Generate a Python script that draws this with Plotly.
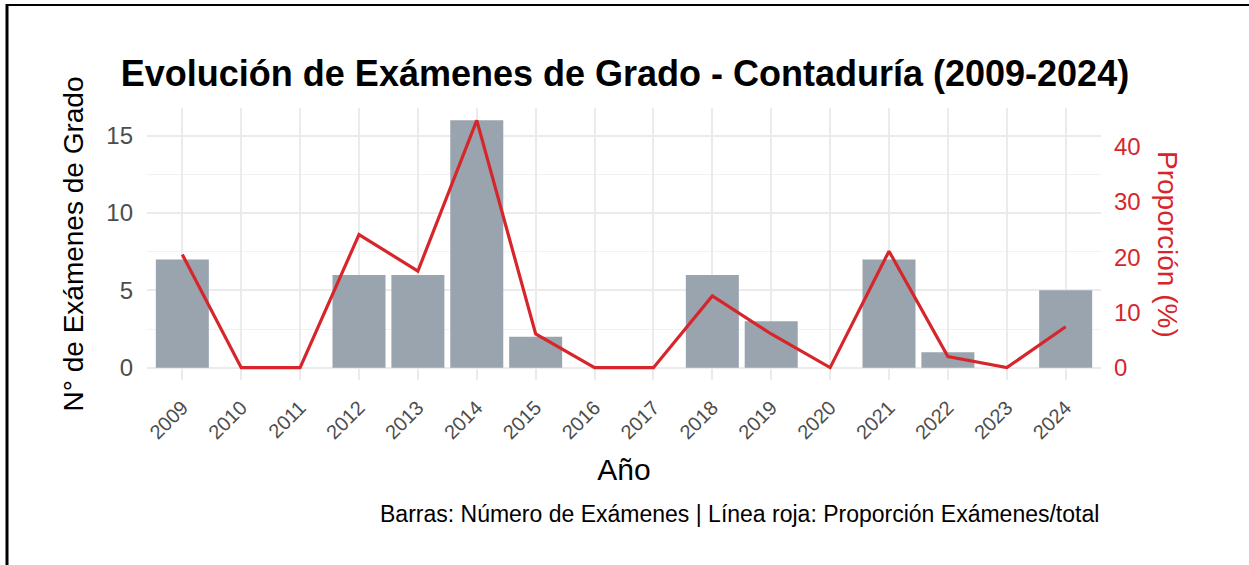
import plotly.graph_objects as go

# Exámenes de grado por año (Contaduría)
anios = ["2009", "2010", "2011", "2012", "2013", "2014", "2015", "2016",
         "2017", "2018", "2019", "2020", "2021", "2022", "2023", "2024"]
examenes = [7, 0, 0, 6, 6, 16, 2, 0, 0, 6, 3, 0, 7, 1, 0, 5]
proporcion = [20.5, 0, 0, 24.1, 17.5, 44.8, 6.1, 0, 0, 13.0, 6.1, 0, 21.1, 2.0, 0, 7.4]

# factor del eje secundario (proporción por unidad de exámenes)
escala = 2.8
y_izq = [-0.8, 16.8]
y_der = [y_izq[0] * escala, y_izq[1] * escala]

W, H = 1249, 565
L, R, T, B = 147, 148, 108, 185
pw, ph = W - L - R, H - T - B

def px_x(x):
    return (x - L) / pw

def px_y(y):
    return (H - B - y) / ph

FONT = "Liberation Sans, Arial, sans-serif"
ROJO = "#D7262B"
GRIS_BARRA = "#99A4AE"
GRID = "#EBEBEB"

fig = go.Figure()

fig.add_trace(go.Bar(
    x=anios, y=examenes, marker_color=GRIS_BARRA, marker_line_width=0,
    width=0.9, yaxis="y", showlegend=False, hoverinfo="x+y",
))
fig.add_trace(go.Scatter(
    x=anios, y=proporcion, mode="lines", line=dict(color=ROJO, width=3.2),
    yaxis="y2", showlegend=False,
))

fig.update_layout(
    width=W, height=H,
    margin=dict(l=L, r=R, t=T, b=B),
    paper_bgcolor="white", plot_bgcolor="white",
    font=dict(family=FONT),
    title=dict(
        text="<b>Evolución de Exámenes de Grado - Contaduría (2009-2024)</b>",
        font=dict(size=36, color="black", family=FONT),
        x=px_x(625), xref="paper", xanchor="center",
        y=1 - 73 / H, yanchor="middle",
    ),
    xaxis=dict(
        type="category", range=[-0.6, 15.6],
        tickangle=-45, tickfont=dict(size=20, color="#4D4D4D"),
        ticklabelstandoff=11,
        showgrid=True, gridcolor=GRID, gridwidth=2,
        ticks="", zeroline=False, showline=False,
        title=dict(text="Año", font=dict(size=30, color="black"), standoff=16),
    ),
    yaxis=dict(
        range=y_izq, tickvals=[0, 5, 10, 15],
        tickfont=dict(size=24, color="#4D4D4D"),
        ticklabelstandoff=13,
        showgrid=True, gridcolor=GRID, gridwidth=2,
        zeroline=False, showline=False, ticks="",
        title=dict(text="N° de Exámenes de Grado", font=dict(size=28, color="black"), standoff=14),
        minor=dict(tickvals=[2.5, 7.5, 12.5], showgrid=True, gridcolor="#F2F2F2", gridwidth=1),
    ),
    yaxis2=dict(
        range=y_der, tickvals=[0, 10, 20, 30, 40], overlaying="y", side="right",
        tickfont=dict(size=24, color=ROJO),
        ticklabelstandoff=12,
        showgrid=False, zeroline=False, showline=False, ticks="",
    ),
    bargap=0.1,
)

# Título del eje secundario, leído de arriba hacia abajo
fig.add_annotation(
    text="Proporción (%)", textangle=90,
    xref="paper", yref="paper", x=px_x(1168), y=px_y(244),
    xanchor="center", yanchor="middle", showarrow=False,
    font=dict(size=28, color=ROJO, family=FONT),
)

fig.add_annotation(
    text="Barras: Número de Exámenes | Línea roja: Proporción Exámenes/total",
    xref="paper", yref="paper", x=1.0, y=px_y(514),
    xanchor="right", yanchor="middle", showarrow=False,
    font=dict(size=23, color="black", family=FONT),
)

# Marco superior e izquierdo de la figura
fig.add_shape(type="line", xref="paper", yref="paper",
              x0=px_x(6), x1=px_x(W + 5), y0=px_y(5), y1=px_y(5),
              line=dict(color="black", width=2))
fig.add_shape(type="line", xref="paper", yref="paper",
              x0=px_x(7), x1=px_x(7), y0=px_y(4), y1=px_y(H + 5),
              line=dict(color="black", width=3))

fig.write_html("out.html")
